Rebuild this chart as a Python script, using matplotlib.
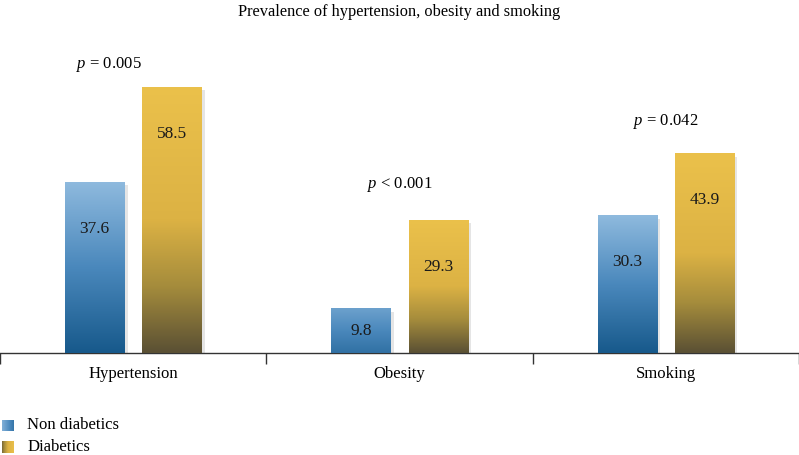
import numpy as np
import matplotlib
matplotlib.use("Agg")
import matplotlib.pyplot as plt
import matplotlib.patheffects as pe
from matplotlib.colors import LinearSegmentedColormap

plt.rcParams['font.family'] = ['Liberation Serif', 'DejaVu Serif']
plt.rcParams['mathtext.fontset'] = 'custom'
plt.rcParams['mathtext.rm'] = 'Liberation Serif'
plt.rcParams['mathtext.it'] = 'Liberation Serif:italic'

categories = ["Hypertension", "Obesity", "Smoking"]
non_diabetics = [37.6, 9.8, 30.3]
diabetics = [58.5, 29.3, 43.9]
p_labels = ["$p$ = 0.005", "$p$ < 0.001", "$p$ = 0.042"]
series_names = ["Non diabetics", "Diabetics"]

# vertical gradients, dark at bottom
blue_cmap = LinearSegmentedColormap.from_list(
    "blue", [(0.0, "#17598b"), (0.5, "#4a88bc"), (1.0, "#8fbade")])
gold_cmap = LinearSegmentedColormap.from_list(
    "gold", [(0.0, "#5a5034"), (0.25, "#a58c3c"), (0.5, "#dcb244"), (1.0, "#ebc14b")])
cmaps = {0: blue_cmap, 1: gold_cmap}

fig = plt.figure(figsize=(7.99, 4.55), dpi=100)
ax = fig.add_axes([0.0, 0.224, 1.0, 0.71])
ax.set_xlim(-0.5, 2.5)
ax.set_ylim(0, 71)

width = 0.222
offset = 0.145
x = np.arange(len(categories))

for s, vals in enumerate([non_diabetics, diabetics]):
    xs = x + (offset if s else -offset)
    for xi, v in zip(xs, vals):
        rect = plt.Rectangle((xi - width / 2, 0), width, v, facecolor="white",
                             edgecolor="none", zorder=2,
                             path_effects=[pe.SimplePatchShadow(offset=(2.5, -2.5), shadow_rgbFace="#999999", alpha=0.25),
                                           pe.Normal()])
        ax.add_patch(rect)
        grad = np.linspace(0, 1, 256).reshape(-1, 1)
        lo = 0.25 if v < 15 else 0.0
        top = 0.75 if v < 15 else 1.0
        im = ax.imshow(lo + grad * (top - lo), cmap=cmaps[s], aspect="auto", origin="lower",
                       extent=(xi - width / 2, xi + width / 2, 0, v),
                       zorder=3, vmin=0, vmax=1)
        im.set_clip_path(rect)
        ly = v - 10.3 if v > 20 else v / 2
        ax.text(xi, ly, f"{v}", ha="center", va="center", fontsize=12.5,
                color="#1a1a1a", zorder=4)

ax.set_xlim(-0.5, 2.5)
ax.set_ylim(0, 71)

p_pos = [(-0.09, 63.5), (0.0, 37.0), (0.0, 51.0)]
for xi, (px, py), lab in zip(x, p_pos, p_labels):
    ax.text(xi + px, py, lab, ha="center", va="center", fontsize=12)

for side in ["top", "right", "left"]:
    ax.spines[side].set_visible(False)
ax.spines["bottom"].set_color("#333333")
ax.spines["bottom"].set_linewidth(1.0)
ax.set_yticks([])
ax.set_xticks([-0.5, 0.5, 1.5, 2.5])
ax.set_xticklabels([])
ax.tick_params(axis="x", direction="out", length=8, width=1.0, color="#333333")
ax.set_xticks(x, minor=True)
ax.set_xticklabels(categories, minor=True, fontsize=12)
ax.tick_params(axis="x", which="minor", length=0, pad=9)

fig.text(0.5, 0.973, "Prevalence of hypertension, obesity and smoking",
         ha="center", va="center", fontsize=11.8)

# legend with gradient swatches
leg_y = [0.052, 0.004]
for s, name in enumerate(series_names):
    sax = fig.add_axes([0.003, leg_y[s], 0.015, 0.026])
    g = np.linspace(0, 1, 64).reshape(1, -1)
    if s == 0:
        sax.imshow(g[:, ::-1] * 0.6 + 0.3, cmap=blue_cmap, aspect="auto", vmin=0, vmax=1)
    else:
        sax.imshow(g * 0.8 + 0.1, cmap=gold_cmap, aspect="auto", vmin=0, vmax=1)
    sax.axis("off")
    fig.text(0.034, leg_y[s] + 0.013, name, ha="left", va="center", fontsize=12)

fig.savefig("out.png", dpi=100)
